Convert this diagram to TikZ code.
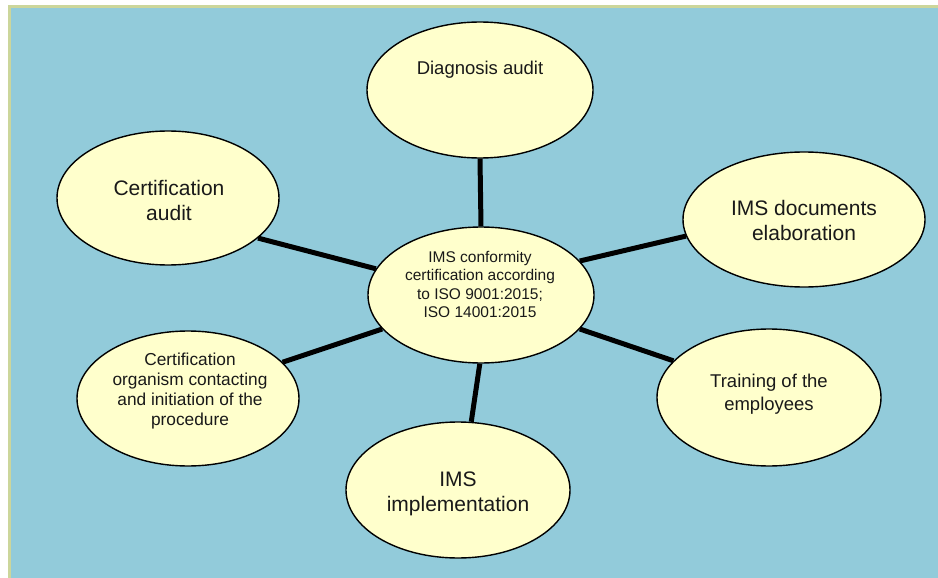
\documentclass[tikz,border=0pt]{standalone}
\usepackage{fontspec}
\setmainfont{Liberation Sans}
\usetikzlibrary{shapes.geometric}
\pgfdeclarelayer{bg}
\pgfsetlayers{bg,main}
\definecolor{skyblue}{RGB}{146,203,218}
\definecolor{paleyellow}{RGB}{255,255,204}
\definecolor{frameline}{RGB}{204,214,155}
\tikzset{
  blob/.style={ellipse, draw=black, line width=1.4pt, fill=paleyellow, inner sep=0pt},
  link/.style={line width=5pt, draw=black},
  txt/.style={align=center, inner sep=0pt, text=black!90},
}
\begin{document}
\begin{tikzpicture}[x=1pt,y=-1pt]
\useasboundingbox (0,0) rectangle (938,578);
\begin{pgfonlayer}{bg}
  \fill[white] (0,0) rectangle (938,578);
  \draw[fill=skyblue, draw=frameline, line width=2.6pt] (9.3,6.3) rectangle (950,590);
\end{pgfonlayer}

% ellipses
\node[blob, minimum width=226pt, minimum height=136pt] (cen) at (481,295) {};
\node[blob, minimum width=226pt, minimum height=136pt] (diag) at (480,90) {};
\node[blob, minimum width=222pt, minimum height=134pt] (caud) at (168,198) {};
\node[blob, minimum width=242pt, minimum height=135pt] (docs) at (804,219.5) {};
\node[blob, minimum width=224pt, minimum height=137pt] (train) at (769,397.5) {};
\node[blob, minimum width=224pt, minimum height=136pt] (impl) at (458,490) {};
\node[blob, minimum width=222pt, minimum height=135pt] (corg) at (188,398.5) {};

% texts
\node[txt, anchor=center, font=\fontsize{15.5}{18.5}\selectfont] (tcen) at (480,284.7)
  {IMS conformity\\certification according\\to ISO 9001:2015;\\ISO 14001:2015};
\node[txt, anchor=base, font=\fontsize{18.5}{22}\selectfont] (tdiag) at (480,75) {Diagnosis audit};
\node[txt, anchor=center, font=\fontsize{21}{24.5}\selectfont] (tcaud) at (169,200.4) {Certification\\audit};
\node[txt, anchor=center, font=\fontsize{21}{25}\selectfont] (tdocs) at (804,220.9) {IMS documents\\elaboration};
\node[txt, anchor=center, font=\fontsize{18.5}{23}\selectfont] (ttrain) at (769,394.7) {Training of the\\employees};
\node[txt, anchor=center, font=\fontsize{21}{25}\selectfont] (timpl) at (458,494.2) {IMS\\implementation};
\node[txt, anchor=center, font=\fontsize{17.3}{19.7}\selectfont] (tcorg) at (190,391) {Certification\\organism contacting\\and initiation of the\\procedure};

% connectors
\begin{pgfonlayer}{bg}
  \draw[link] (cen.90) -- (diag.-90);
  \draw[link] (cen.166) -- (caud.-24.5);
  \draw[link] (cen.19.8) -- (docs.188.4);
  \draw[link] (cen.-19.8) -- (train.159.7);
  \draw[link] (cen.-91) -- (impl.79);
  \draw[link] (cen.199) -- (corg.21);
\end{pgfonlayer}
\end{tikzpicture}
\end{document}
